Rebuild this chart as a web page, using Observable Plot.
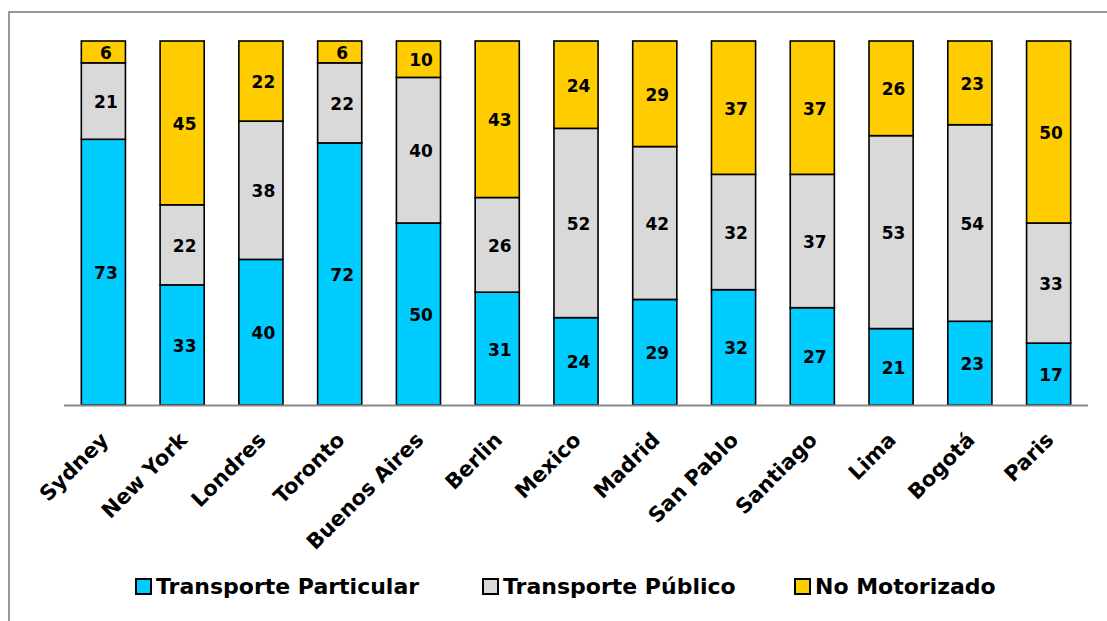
<!DOCTYPE html>
<html>
<head>
<meta charset="utf-8">
<script src="https://cdn.jsdelivr.net/npm/d3@7"></script>
<script src="https://cdn.jsdelivr.net/npm/@observablehq/plot@0.6"></script>
<style>
  html, body { margin: 0; padding: 0; background: #fff; }
  #wrap { position: relative; width: 1107px; height: 621px; overflow: hidden; font-family: "DejaVu Sans", Verdana, sans-serif; }
  #frame { position: absolute; left: 8px; top: 11px; width: 1200px; height: 700px; border-left: 2px solid #999; border-top: 2px solid #999; box-sizing: border-box; }
  #chart { position: absolute; left: 0; top: 0; }
  #legend { position: absolute; top: 574px; left: 0; width: 1107px; height: 28px; }
  .item { position: absolute; top: 0; display: flex; align-items: center; font-weight: bold; font-size: 22px; color: #000; white-space: nowrap; }
  .sw { width: 13px; height: 13px; border: 2px solid #000; margin-right: 4px; }
</style>
</head>
<body>
<div id="wrap">
  <div id="frame"></div>
  <div id="chart"></div>
  <div id="legend"></div>
</div>
<script>
const cities = ["Sydney","New York","Londres","Toronto","Buenos Aires","Berlin","Mexico","Madrid","San Pablo","Santiago","Lima","Bogotá","Paris"];
const series = ["Transporte Particular","Transporte Público","No Motorizado"];
const particular = [73,33,40,72,50,31,24,29,32,27,21,23,17];
const publico    = [21,22,38,22,40,26,52,42,32,37,53,54,33];
const noMotor    = [6,45,22,6,10,43,24,29,37,37,26,23,50];
const colors = ["#00CCFF","#D9D9D9","#FFCC00"];

const valuesBySeries = [particular, publico, noMotor];
const data = [];
series.forEach((s, si) => cities.forEach((c, ci) => data.push({city: c, serie: s, value: valuesBySeries[si][ci]})));

const W = 1107;
const chart = Plot.plot({
  width: W,
  height: 540,
  marginTop: 41,
  marginBottom: 135,
  marginLeft: 64,
  marginRight: 19,
  style: {fontFamily: "'DejaVu Sans', Verdana, sans-serif", background: "transparent", overflow: "visible"},
  x: {domain: cities, paddingInner: 0.44, paddingOuter: 0.22, round: false, axis: null},
  y: {domain: [0, 1], axis: null},
  color: {domain: series, range: colors},
  marks: [
    Plot.barY(data, Plot.stackY({x: "city", y: "value", z: "serie", fill: "serie", order: series, offset: "normalize", stroke: "#000", strokeWidth: 1.6})),
    Plot.text(data, Plot.stackY({x: "city", y: "value", z: "serie", order: series, offset: "normalize", text: d => String(d.value), fontSize: 17, fontWeight: "bold", fill: "#000", dx: 2, dy: 1})),
    Plot.ruleY([0], {stroke: "#888", strokeWidth: 2}),
    Plot.text(cities, {x: d => d, y: () => 0, text: d => d, rotate: -45, textAnchor: "end", lineAnchor: "middle", dx: 1, dy: 31, fontSize: 21, fontWeight: "bold", fill: "#000"})
  ]
});
document.getElementById("chart").appendChild(chart);

const legend = document.getElementById("legend");
const lefts = [135, 482, 794];
series.forEach((s, i) => {
  const it = document.createElement("div");
  it.className = "item";
  it.style.left = lefts[i] + "px";
  const sw = document.createElement("div");
  sw.className = "sw";
  sw.style.background = colors[i];
  const t = document.createElement("span");
  t.textContent = s;
  it.appendChild(sw);
  it.appendChild(t);
  legend.appendChild(it);
});
</script>
</body>
</html>
